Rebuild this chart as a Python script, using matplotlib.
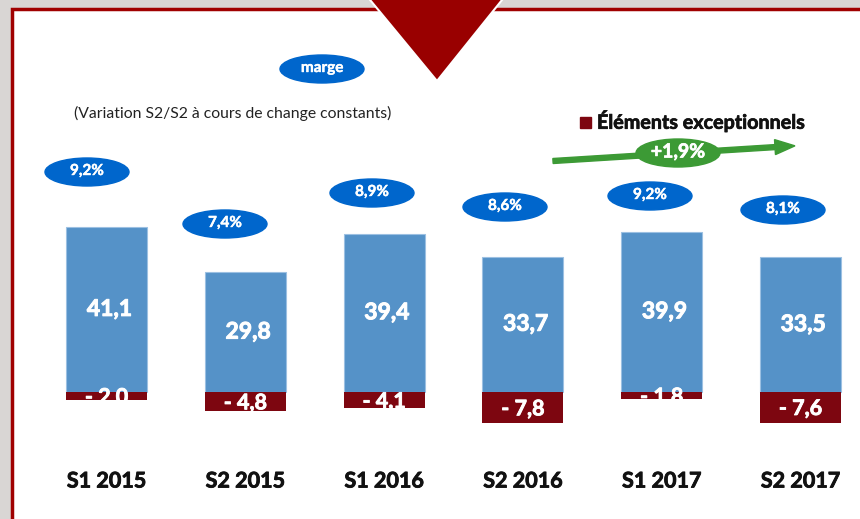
import matplotlib.pyplot as plt
from matplotlib.patches import Ellipse, Rectangle, Polygon, FancyArrow
import matplotlib.patheffects as pe
import numpy as np

# Data
periods = ['S1 2015', 'S2 2015', 'S1 2016', 'S2 2016', 'S1 2017', 'S2 2017']
marge = [41.1, 29.8, 39.4, 33.7, 39.9, 33.5]
exceptionnels = [-2.0, -4.8, -4.1, -7.8, -1.8, -7.6]
taux = ['9,2%', '7,4%', '8,9%', '8,6%', '9,2%', '8,1%']
variation = '+1,9%'

# where the rate bubbles sit (pixels, from the top left)
bubble_xy = [(87, 172), (225, 224), (372, 193), (505, 207), (650, 196), (783, 210)]

plt.rcParams['font.family'] = ['Lato', 'DejaVu Sans']


def thick(c, w=0.7):
    # Lato bold is a bit lighter than the original font, fatten it a little
    return [pe.withStroke(linewidth=w, foreground=c)]


W, H = 860, 519
fig = plt.figure(figsize=(W / 100, H / 100), dpi=100)
fig.patch.set_facecolor('#d9d6d4')

# background layer in pixel coordinates : frame, triangle, bubbles, texts
bg = fig.add_axes([0, 0, 1, 1])
bg.set_xlim(0, W)
bg.set_ylim(H, 0)
bg.axis('off')
bg.add_patch(Rectangle((12, 9), 900, 600, facecolor='white', edgecolor='#a00000', lw=2.5))
bg.add_patch(Polygon([(366, -5), (506, -5), (437, 81)], closed=True,
                     facecolor='#990000', edgecolor='white', lw=1.5))

blue = '#0066cc'
bg.add_patch(Ellipse((322, 69), 84, 28, color=blue))
bg.text(322, 68, 'marge', color='white', fontsize=11, fontweight='bold',
        ha='center', va='center', path_effects=thick('white', 0.3))

bg.text(74, 113, '(Variation S2/S2 à cours de change constants)', fontsize=11.3,
        ha='left', va='center', color='#222222')

for (bx, by), t in zip(bubble_xy, taux):
    bg.add_patch(Ellipse((bx, by), 84, 28, color=blue))
    bg.text(bx, by - 1, t, color='white', fontsize=11, fontweight='bold',
            ha='center', va='center', path_effects=thick('white', 0.3))

# legend
bg.add_patch(Rectangle((580, 117), 11, 11, color='#7d0610'))
bg.text(597, 121, 'Éléments exceptionnels', fontsize=14.2, fontweight='bold',
        ha='left', va='center', color='#111111', path_effects=thick('#111111', 0.5))

# green trend arrow
green = '#3c9a35'
bg.add_patch(FancyArrow(553, 161, 222, -13.9, width=5, head_width=15, head_length=20,
                        length_includes_head=False, color=green))
bg.add_patch(Ellipse((678, 153), 84, 28, color=green))
bg.text(678, 152, variation, color='white', fontsize=14, fontweight='bold',
        ha='center', va='center', path_effects=thick('white', 0.5))

# bars
ax = fig.add_axes([0, 0, 1, 1])
ax.patch.set_alpha(0)
ax.axis('off')
step = 138.8   # pixels between bars
unit = 4.02    # pixels per unit
base = 392     # pixel row of the zero line
ax.set_xlim(-106.5 / step, (W - 106.5) / step)
ax.set_ylim(-(H - base) / unit, base / unit)

x = np.arange(len(periods))
ax.bar(x, marge, 0.584, color='#5592c8', edgecolor='#9cc0e2', lw=0.8)
ax.bar(x, exceptionnels, 0.584, color='#7d0610')

for i in x:
    ax.text(i + 0.02, marge[i] / 2, f'{marge[i]:.1f}'.replace('.', ','), color='white',
            fontsize=16.5, fontweight='bold', ha='center', va='center',
            path_effects=thick('white'))
    ax.text(i, exceptionnels[i] / 2 - 0.3, '- ' + f'{abs(exceptionnels[i]):.1f}'.replace('.', ','),
            color='white', fontsize=15.5, fontweight='bold', ha='center', va='center',
            path_effects=thick('white', 0.6))
    ax.text(i, -(481 - base) / unit, periods[i], color='#111111', fontsize=15.5,
            fontweight='bold', ha='center', va='center', path_effects=thick('#111111', 0.6))

fig.savefig('out.png', dpi=100, facecolor=fig.get_facecolor())
